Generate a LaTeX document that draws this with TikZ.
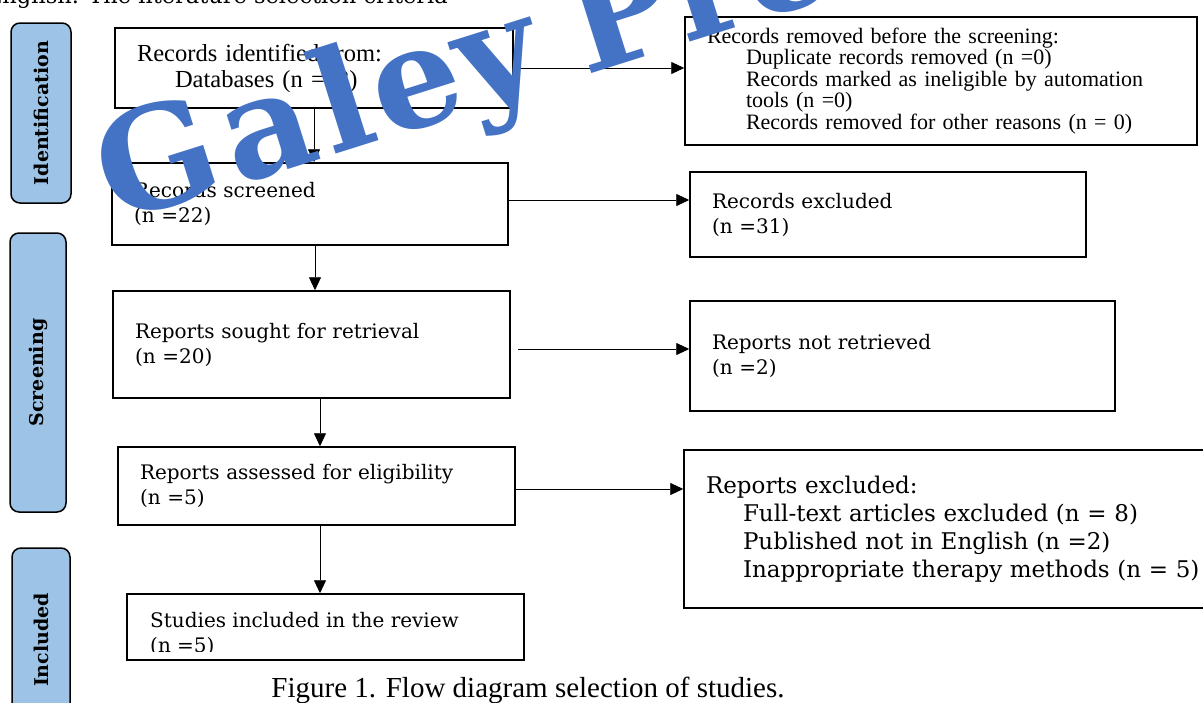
\documentclass[tikz,border=0pt]{standalone}
\usepackage{fontspec}
\usepackage{xcolor}
\usepackage{tikz}
\usetikzlibrary{arrows.meta,positioning}

\newfontfamily\bkfont{DejaVu Serif}
\newfontfamily\tmfont{Liberation Serif}
\definecolor{tabblue}{HTML}{9DC3E6}
\definecolor{wmblue}{HTML}{4472C4}

\begin{document}
\begin{tikzpicture}[
    x=1pt, y=-1pt,
    box/.style={draw, rectangle, line width=1.5pt, inner xsep=22pt, inner ysep=0pt, align=left},
    bktext/.style={font=\bkfont\fontsize{20}{25}\selectfont},
    tmtext/.style={font=\tmfont\fontsize{22}{21.5}\selectfont},
    tab/.style={draw, line width=1.5pt, rounded corners=9pt, fill=tabblue, rotate=90, inner sep=0pt, font=\bkfont\bfseries\fontsize{19}{19}\selectfont},
    arrow/.style={-{Triangle[length=13pt, width=12pt]}, line width=0.9pt}
]
    \fill[white] (0,0) rectangle (1203,702);
    \useasboundingbox (0,0) rectangle (1203,702);

    % Phase tabs
    \node[tab, minimum width=180pt, minimum height=60pt] (idtab) at (41,113) {Identification};
    \node[tab, minimum width=279pt, minimum height=56pt] (scrtab) at (38,372.5) {Screening};
    \node[tab, minimum width=184pt, minimum height=58pt] (inctab) at (41,640) {Included};

    % Cut-off line above the figure
    \node[anchor=base east, inner sep=0pt, font=\bkfont\fontsize{22.5}{22.5}\selectfont] (crit) at (448,3.5) {English. The literature selection criteria};

    % Stages
    \node[box, font=\tmfont\fontsize{24.5}{26}\selectfont, text width=354pt, minimum height=80pt] (ident) at (314,68)
        {Records identified from:\\\hspace*{38pt}Databases (n =53)};
    \node[box, tmtext, text width=468pt, minimum height=128pt] (remv) at (941,81)
        {Records removed before the screening:\\
         \hspace*{39pt}Duplicate records removed (n =0)\\
         \hspace*{39pt}Records marked as ineligible by automation\\
         \hspace*{39pt}tools (n =0)\\
         \hspace*{39pt}Records removed for other reasons (n = 0)};
    \node[box, bktext, text width=352pt, minimum height=82pt] (scrn) at (310,204)
        {Records screened\\(n =22)};
    \node[box, bktext, text width=352pt, minimum height=85pt] (excl) at (888,214.5)
        {Records excluded\\(n =31)};
    \node[box, bktext, text width=353pt, minimum height=107pt] (sought) at (311.5,344.5)
        {Reports sought for retrieval\\(n =20)};
    \node[box, bktext, text width=381pt, minimum height=110pt] (notret) at (902.5,356)
        {Reports not retrieved\\(n =2)};
    \node[box, bktext, text width=353pt, minimum height=78pt] (assess) at (316.5,486)
        {Reports assessed for eligibility\\(n =5)};
    \node[box, font=\bkfont\fontsize{23}{28}\selectfont, text width=516pt, minimum height=158pt] (repex) at (964,529)
        {Reports excluded:\\
         \hspace*{37pt}Full-text articles excluded (n = 8)\\
         \hspace*{37pt}Published not in English (n =2)\\
         \hspace*{37pt}Inappropriate therapy methods (n = 5)};
    \node[box, minimum width=397pt, minimum height=66pt] (incl) at (325.5,627) {};
    \begin{scope}
        \clip (incl.north west) rectangle ([yshift=9pt]incl.south east);
        \node[anchor=north west, inner sep=0pt, align=left, bktext] (incltxt) at (150,612)
            {Studies included in the review\\(n =5)};
    \end{scope}

    % Arrows
    \draw[arrow] (ident.east) -- (ident.east -| remv.west);
    \draw[arrow] (ident.south) -- (ident.south |- scrn.north);
    \draw[arrow] ([yshift=4pt]scrn.east) -- ([yshift=4pt]scrn.east -| excl.west);
    \draw[arrow] ([xshift=5pt]scrn.south) -- ([xshift=5pt]scrn.south |- sought.north);
    \draw[arrow] ([xshift=7pt, yshift=-4.5pt]sought.east) -- ([yshift=-4.5pt]sought.east -| notret.west);
    \draw[arrow] ([xshift=8.5pt]sought.south) -- ([xshift=8.5pt]sought.south |- assess.north);
    \draw[arrow] ([yshift=-3pt]assess.east) -- ([yshift=-3pt]assess.east -| repex.west);
    \draw[arrow] ([xshift=3.5pt]assess.south) -- ([xshift=3.5pt]assess.south |- incl.north);

    % Caption
    \node[anchor=base, font=\tmfont\fontsize{29}{29}\selectfont] (capt) at (528,697)
        {Figure 1. Flow diagram selection of studies.};

    % Watermark
    \node[anchor=base west, rotate=17.5, inner sep=0pt, text=wmblue, font=\bkfont\bfseries\fontsize{140}{140}\selectfont] (wmark) at (114,224)
        {G\kern10pt a\kern8pt l\kern4pt ey\kern38pt Press};
\end{tikzpicture}
\end{document}
